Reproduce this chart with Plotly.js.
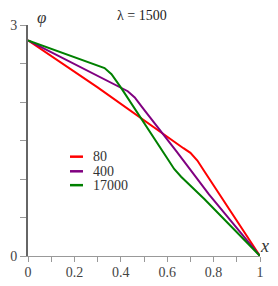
<!DOCTYPE html>
<html>
<head>
<meta charset="utf-8">
<script src="https://cdn.plot.ly/plotly-3.0.1.min.js"></script>
<style>html,body{margin:0;padding:0;background:#fff;}#chart{width:278px;height:286px;}</style>
</head>
<body>
<div id="chart"></div>
<script>
// Series data
const seriesNames = ['80', '400', '17000'];
const seriesColors = ['#ff0000', '#800080', '#008000'];

const x80 = [0, 0.30, 0.67, 0.70, 0.73, 0.76, 1];
const y80 = [2.8, 2.19, 1.40, 1.34, 1.24, 1.10, 0];

const x400 = [0, 0.40, 0.43, 0.46, 0.50, 0.64, 0.78, 1];
const y400 = [2.8, 2.19, 2.14, 2.06, 1.90, 1.36, 0.80, 0];

const x17000 = [0, 0.30, 0.33, 0.36, 0.40, 0.60, 0.63, 0.66, 0.76, 1];
const y17000 = [2.8, 2.48, 2.44, 2.36, 2.19, 1.27, 1.13, 1.03, 0.74, 0];

const xTickVals = [0, 0.1, 0.2, 0.3, 0.4, 0.5, 0.6, 0.7, 0.8, 0.9, 1];
const xTickText = ['0', '', '0.2', '', '0.4', '', '0.6', '', '0.8', '', '1'];
const yTickVals = [0, 0.5, 1, 1.5, 2, 2.5, 3];
const yTickText = ['0', '', '', '', '', '', '3'];

const titleText = 'λ = 1500';
const xLabel = 'x';
const yLabel = 'φ';

const xs = [x80, x400, x17000];
const ys = [y80, y400, y17000];

const FONT = 'Liberation Serif, serif';

const traces = seriesNames.map((n, i) => ({
  x: xs[i], y: ys[i], name: n, type: 'scatter', mode: 'lines',
  line: {color: seriesColors[i], width: 2},
  showlegend: false, cliponaxis: true
}));

// manual legend (short line samples like the reference)
const legendRowsY = [1.29, 1.10, 0.92];
const shapes = seriesNames.map((n, i) => ({
  type: 'line', xref: 'x', yref: 'y',
  x0: 0.181, x1: 0.237, y0: legendRowsY[i], y1: legendRowsY[i],
  line: {color: seriesColors[i], width: 2.5}
}));
const annotations = seriesNames.map((n, i) => ({
  xref: 'x', yref: 'y', x: 0.272, y: legendRowsY[i], text: n,
  showarrow: false, xanchor: 'left', yanchor: 'middle',
  font: {family: FONT, size: 14, color: '#333'}
}));
annotations.push({
  xref: 'paper', yref: 'paper', x: 0.49, y: 1, yshift: 10, text: titleText,
  showarrow: false, xanchor: 'center', yanchor: 'middle',
  font: {family: FONT, size: 14, color: '#222'}
});
annotations.push({
  xref: 'paper', yref: 'paper', x: 0, xshift: 13, y: 1, yshift: 8, text: '<i>' + yLabel + '</i>',
  showarrow: false, xanchor: 'center', yanchor: 'middle',
  font: {family: FONT, size: 17, color: '#333'}
});
annotations.push({
  xref: 'paper', yref: 'paper', x: 1, xshift: 4, y: 0, yshift: 10, text: '<i>' + xLabel + '</i>',
  showarrow: false, xanchor: 'center', yanchor: 'middle',
  font: {family: FONT, size: 18, color: '#333'}
});

const layout = {
  width: 278, height: 286,
  margin: {l: 28, r: 18, t: 25, b: 30},
  paper_bgcolor: '#fff', plot_bgcolor: '#fff',
  showlegend: false,
  font: {family: FONT, size: 13, color: '#444'},
  xaxis: {
    range: [0, 1], tickvals: xTickVals, ticktext: xTickText,
    showgrid: false, zeroline: false, showline: true, linecolor: '#999', linewidth: 1,
    ticks: 'outside', ticklen: 5, tickcolor: '#999', tickwidth: 1,
    ticklabelstandoff: -2,
    tickfont: {family: FONT, size: 14, color: '#444'}
  },
  yaxis: {
    range: [0, 3], tickvals: yTickVals, ticktext: yTickText,
    showgrid: false, zeroline: false, showline: true, linecolor: '#666', linewidth: 2,
    ticks: 'outside', ticklen: 6, tickcolor: '#999', tickwidth: 1,
    tickfont: {family: FONT, size: 14, color: '#444'}
  },
  shapes: shapes,
  annotations: annotations
};

Plotly.newPlot('chart', traces, layout, {displayModeBar: false, staticPlot: true});
</script>
</body>
</html>
